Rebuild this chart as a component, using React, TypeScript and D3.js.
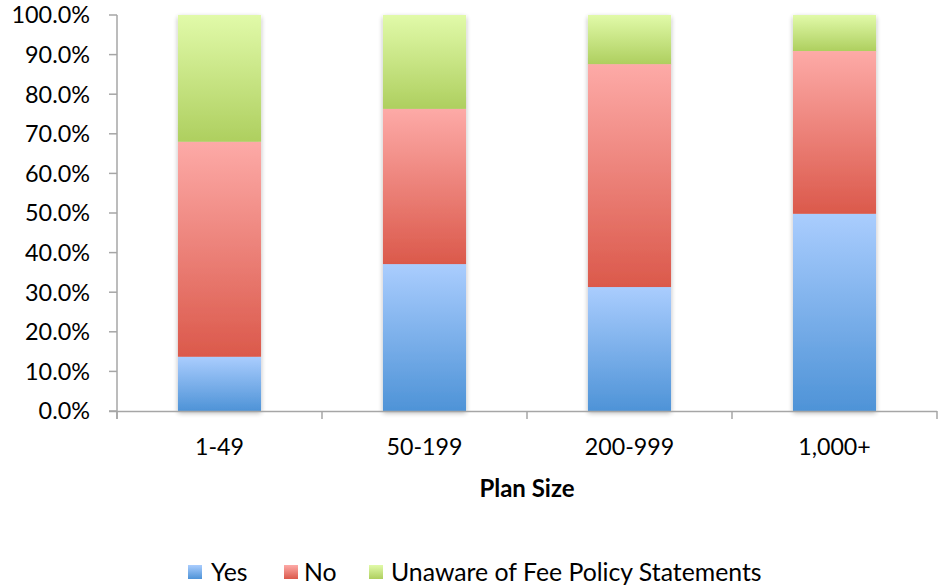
import React from "react";
import * as d3 from "d3";

const categories = ["1-49", "50-199", "200-999", "1,000+"];
const seriesNames = ["Yes", "No", "Unaware of Fee Policy Statements"];
const yesValues = [13.7, 37.1, 31.3, 49.8];
const noValues = [54.3, 39.2, 56.3, 41.1];
const unawareValues = [32.0, 23.7, 12.4, 9.1];
const yTicks = [0, 10, 20, 30, 40, 50, 60, 70, 80, 90, 100];
const xTitle = "Plan Size";

const gradients = [
  { id: "gYes", top: "#aacdfe", bottom: "#4e93d7" },
  { id: "gNo", top: "#fdaaa7", bottom: "#db594b" },
  { id: "gUn", top: "#e1faa9", bottom: "#aecf5f" },
];

export default function App() {
  const W = 944, H = 586;
  const left = 117, right = 937, top = 15, bottom = 411;
  const x = d3.scaleBand<string>().domain(categories).range([left, right]).paddingInner(0.595).paddingOuter(0.2975);
  const y = d3.scaleLinear().domain([0, 100]).range([bottom, top]);
  const series = [yesValues, noValues, unawareValues];
  const stackData = categories.map((c, i) => ({ cat: c, s0: series[0][i], s1: series[1][i], s2: series[2][i] }));
  const stack = d3.stack<any>().keys(["s0", "s1", "s2"])(stackData);
  const font = "Lato, 'Open Sans', sans-serif";
  const boundaries = [left, ...categories.map((c) => (x(c)! + x.bandwidth() / 2) + x.step() / 2)];

  return (
    <svg width={W} height={H} style={{ position: "absolute", left: 0, top: 0, background: "#fff" }}>
      <defs>
        {gradients.map((g) => (
          <linearGradient key={g.id} id={g.id} x1="0" y1="0" x2="0" y2="1">
            <stop offset="0" stopColor={g.top} />
            <stop offset="1" stopColor={g.bottom} />
          </linearGradient>
        ))}
        <filter id="shadow" x="-20%" y="-5%" width="140%" height="110%">
          <feGaussianBlur in="SourceAlpha" stdDeviation="2.5" />
          <feOffset dx="0" dy="2" result="b" />
          <feComponentTransfer><feFuncA type="linear" slope="0.3" /></feComponentTransfer>
          <feMerge><feMergeNode /><feMergeNode in="SourceGraphic" /></feMerge>
        </filter>
      </defs>
      {/* bars */}
      {categories.map((c, i) => (
        <g key={c} filter="url(#shadow)">
          {stack.map((layer, k) => {
            const d = layer[i];
            return (
              <rect key={k} x={x(c)} width={x.bandwidth()} y={y(d[1])} height={y(d[0]) - y(d[1])}
                fill={`url(#${gradients[k].id})`} />
            );
          })}
        </g>
      ))}
      {/* y axis */}
      <line x1={left} x2={left} y1={top} y2={bottom + 8} stroke="#a6a6a6" strokeWidth={1.5} />
      {yTicks.map((t) => (
        <g key={t}>
          <line x1={left - 8} x2={left} y1={y(t)} y2={y(t)} stroke="#a6a6a6" strokeWidth={1.5} />
          <text x={90} y={y(t)} dy="0.36em" textAnchor="end" fontFamily={font} fontSize={23.4} fill="#000">
            {t.toFixed(1) + "%"}
          </text>
        </g>
      ))}
      {/* x axis */}
      <line x1={left - 8} x2={right} y1={bottom + 0.5} y2={bottom + 0.5} stroke="#a6a6a6" strokeWidth={1.5} />
      {boundaries.map((b, i) => (
        <line key={i} x1={b} x2={b} y1={bottom} y2={bottom + 8} stroke="#a6a6a6" strokeWidth={1.5} />
      ))}
      {categories.map((c) => (
        <text key={c} x={x(c)! + x.bandwidth() / 2} y={455} textAnchor="middle" fontFamily={font} fontSize={23.2} fill="#000">
          {c}
        </text>
      ))}
      <text x={(left + right) / 2} y={497} textAnchor="middle" fontFamily={font} fontSize={24} fontWeight="bold" fill="#000">
        {xTitle}
      </text>
      {/* legend */}
      {(() => {
        const items = [
          { sq: 188, tx: 211 },
          { sq: 284, tx: 304 },
          { sq: 369, tx: 391 },
        ];
        return seriesNames.map((n, k) => (
          <g key={n}>
            <rect x={items[k].sq} y={565} width={14} height={14} fill={`url(#${gradients[k].id})`} />
            <text x={items[k].tx} y={581} fontFamily={font} fontSize={24.8} fill="#000">{n}</text>
          </g>
        ));
      })()}
    </svg>
  );
}
